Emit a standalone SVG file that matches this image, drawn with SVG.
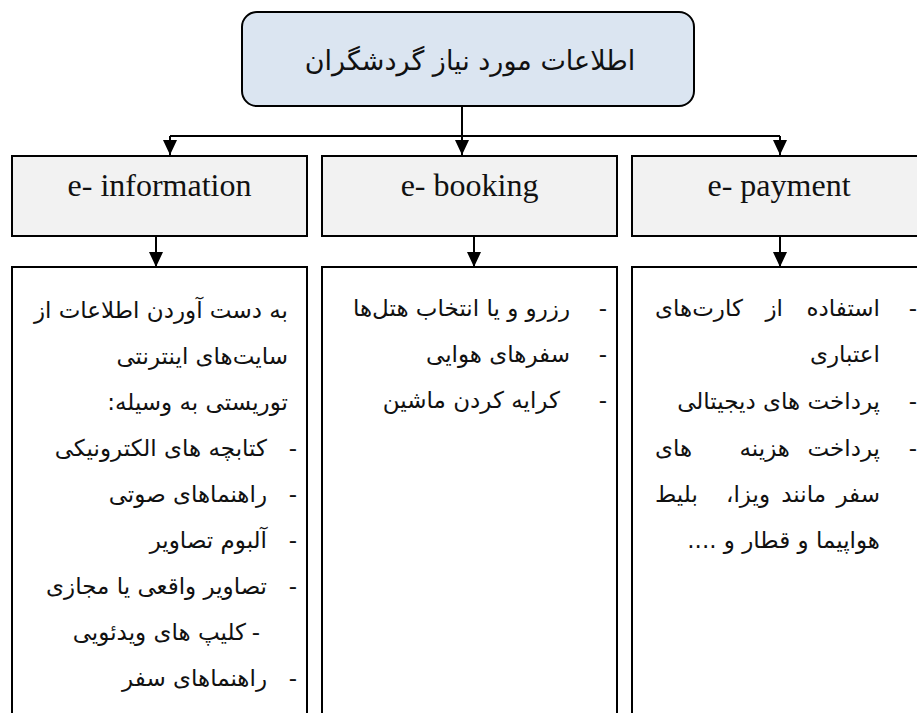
<svg xmlns="http://www.w3.org/2000/svg" width="917" height="713" viewBox="0 0 917 713">
<style>
.box{stroke:#000;stroke-width:2}
.root{fill:#dbe5f1}
.cat{fill:#f2f2f2}
.list{fill:#fff}
.en{font-family:"Liberation Serif","Times New Roman",serif;font-size:32px;fill:#111;text-anchor:middle}
.fa{font-family:"DejaVu Sans",sans-serif;font-size:23px;fill:#111;direction:rtl;text-anchor:start}
.fe{font-family:"DejaVu Sans",sans-serif;font-size:23px;fill:#111;direction:rtl;text-anchor:end}
.title{font-family:"DejaVu Sans",sans-serif;font-size:27px;fill:#111;text-anchor:middle;direction:rtl}
.dash{font-family:"DejaVu Sans",sans-serif;font-size:23px;fill:#111;text-anchor:middle}
.conn{fill:none;stroke:#000;stroke-width:2}
</style>
<defs>
<marker id="arr" viewBox="0 0 15 14" refX="15" refY="7" markerWidth="15" markerHeight="14" markerUnits="userSpaceOnUse" orient="auto">
<path d="M0,0 L15,7 L0,14 z" fill="#000"/>
</marker>
</defs>
<rect width="917" height="713" fill="#fff"/>

<g id="connectors">
<path class="conn" d="M462,106 V155" marker-end="url(#arr)"/>
<path class="conn" d="M170,136 H780"/>
<path class="conn" d="M170,136 V155" marker-end="url(#arr)"/>
<path class="conn" d="M780,136 V155" marker-end="url(#arr)"/>
<path class="conn" d="M156,236 V267" marker-end="url(#arr)"/>
<path class="conn" d="M474,236 V267" marker-end="url(#arr)"/>
<path class="conn" d="M780,236 V267" marker-end="url(#arr)"/>
</g>

<g id="root">
<rect class="box root" x="242" y="12" width="452" height="94" rx="15"/>
<text class="title" x="470" y="70">اطلاعات مورد نیاز گردشگران</text>
</g>

<g id="e-information">
<rect class="box cat" x="12" y="156" width="295" height="80"/>
<text class="en" x="159.5" y="196">e- information</text>
</g>
<g id="e-booking">
<rect class="box cat" x="322" y="156" width="295" height="80"/>
<text class="en" x="469.5" y="196">e- booking</text>
</g>
<g id="e-payment">
<rect class="box cat" x="632" y="156" width="294" height="80"/>
<text class="en" x="779" y="196">e- payment</text>
</g>

<g id="information-list">
<rect class="box list" x="12" y="267" width="295" height="460"/>
<text class="fa" x="288" y="318">به دست آوردن اطلاعات از</text>
<text class="fa" x="288" y="364">سایت‌های اینترنتی</text>
<text class="fa" x="288" y="410">توریستی به وسیله:</text>
<text class="dash" x="293" y="456">-</text>
<text class="fa" x="267" y="456">کتابچه های الکترونیکی</text>
<text class="dash" x="293" y="502">-</text>
<text class="fa" x="267" y="502">راهنماهای صوتی</text>
<text class="dash" x="293" y="548">-</text>
<text class="fa" x="267" y="548">آلبوم تصاویر</text>
<text class="dash" x="293" y="594">-</text>
<text class="fa" x="267" y="594">تصاویر واقعی یا مجازی</text>
<text class="dash" x="256" y="640">-</text>
<text class="fa" x="246" y="640">کلیپ های ویدئویی</text>
<text class="dash" x="293" y="686">-</text>
<text class="fa" x="267" y="686">راهنماهای سفر</text>
</g>

<g id="booking-list">
<rect class="box list" x="322" y="267" width="295" height="460"/>
<text class="dash" x="603" y="316">-</text>
<text class="fa" x="570" y="316">رزرو و یا انتخاب هتل‌ها</text>
<text class="dash" x="603" y="362">-</text>
<text class="fa" x="570" y="362">سفرهای هوایی</text>
<text class="dash" x="603" y="408">-</text>
<text class="fa" x="560" y="408">کرایه کردن ماشین</text>
</g>

<g id="payment-list">
<rect class="box list" x="632" y="267" width="294" height="460"/>
<text class="dash" x="913" y="316">-</text>
<text class="fa" x="880" y="316">استفاده</text>
<text class="fa" x="783" y="316">از</text>
<text class="fe" x="655" y="316">کارت‌های</text>
<text class="fa" x="880" y="362">اعتباری</text>
<text class="dash" x="913" y="409">-</text>
<text class="fa" x="880" y="409">پرداخت های دیجیتالی</text>
<text class="dash" x="913" y="456">-</text>
<text class="fa" x="880" y="456">پرداخت</text>
<text class="fa" x="790" y="456">هزینه</text>
<text class="fe" x="655" y="456">های</text>
<text class="fa" x="880" y="502">سفر</text>
<text class="fa" x="826" y="502">مانند</text>
<text class="fa" x="770" y="502">ویزا،</text>
<text class="fe" x="655" y="502">بلیط</text>
<text class="fa" x="880" y="548">هواپیما و قطار و ....</text>
</g>
</svg>
